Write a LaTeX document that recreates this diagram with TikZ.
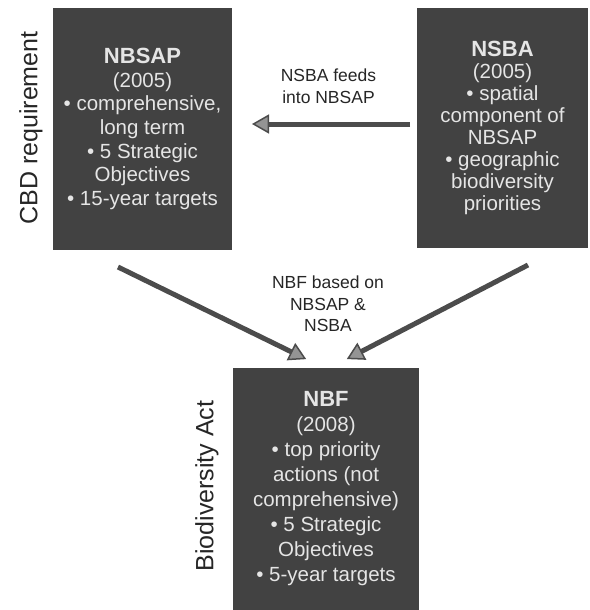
\documentclass[tikz,border=0pt]{standalone}
\usepackage{fontspec}
\setmainfont{Liberation Sans}
\usetikzlibrary{arrows.meta}
\newcommand{\boxtitle}[1]{{\bfseries\fontsize{22}{24}\selectfont #1}}
\begin{document}
\begin{tikzpicture}[x=1pt,y=-1pt,
  box/.style={fill=black!74, text=white!90!black, align=center, inner sep=0pt},
  lab/.style={font=\fontsize{17.5}{21.5}\selectfont, align=center, text=black!85},
  side/.style={font=\fontsize{25}{30}\selectfont, rotate=90, text=black!85},
  conn/.style={draw=black!70, line width=5pt, shorten >=2pt,
    -{Triangle[length=17pt,width=19pt,line width=1.5pt,fill=black!42]}}
]
\useasboundingbox (0,0) rectangle (589,610);

\node[box, minimum width=179pt, minimum height=242pt,
  font=\fontsize{20.5}{23.6}\selectfont] (nbsap) at (142.5,129)
  {\boxtitle{NBSAP}\\(2005)\\• comprehensive,\\long term\\• 5 Strategic\\Objectives\\• 15-year targets};

\node[box, minimum width=171pt, minimum height=240pt,
  font=\fontsize{20.5}{22}\selectfont] (nsba) at (502.5,128)
  {\boxtitle{NSBA}\\(2005)\\• spatial\\component of\\NBSAP\\• geographic\\biodiversity\\priorities};

\node[box, minimum width=186pt, minimum height=242pt,
  font=\fontsize{20.5}{25}\selectfont] (nbf) at (326,489)
  {\boxtitle{NBF}\\(2008)\\• top priority\\actions (not\\comprehensive)\\• 5 Strategic\\Objectives\\• 5-year targets};

\node[side] (cbd) at (31,128) {CBD requirement};
\node[side] (bact) at (207,486) {Biodiversity Act};

\node[lab] (feeds) at (328.5,86) {NSBA feeds\\into NBSAP};
\node[lab] (based) at (328,304) {NBF based on\\NBSAP \&\\NSBA};

\coordinate (s1) at (118,267);
\coordinate (t1) at (308,360);
\coordinate (s2) at (528,265);
\coordinate (t2) at (345,360);
\coordinate (h1) at (410,124);
\coordinate (h2) at (250,124);

\draw[conn] (h1) -- (h2);
\draw[conn] (s1) -- (t1);
\draw[conn] (s2) -- (t2);
\end{tikzpicture}
\end{document}
